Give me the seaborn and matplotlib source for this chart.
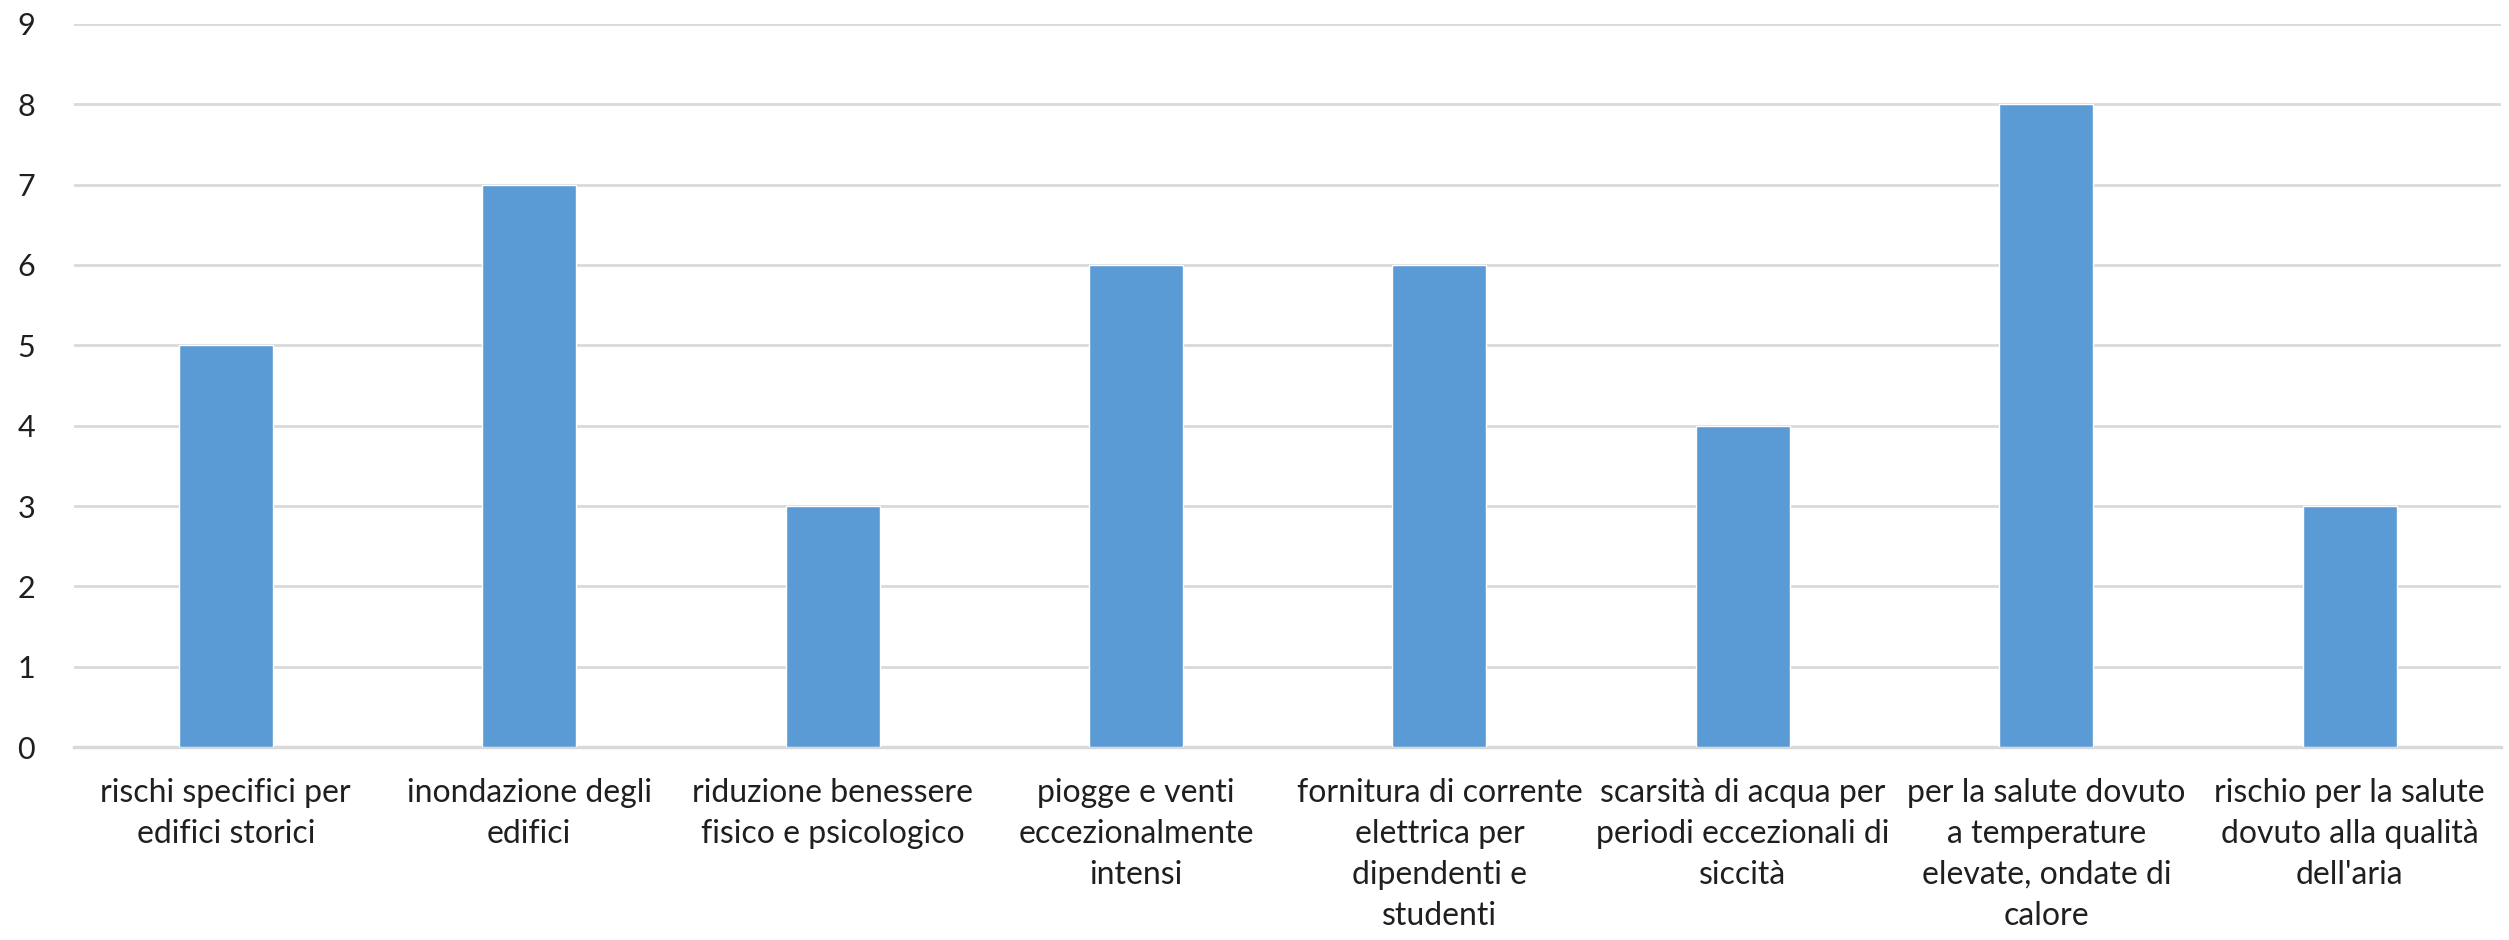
import matplotlib
matplotlib.use('Agg')
import matplotlib.pyplot as plt
import seaborn as sns
import pandas as pd

# categories (tick labels, wrapped as in the reference)
categories = [
    'rischi specifici per\nedifici storici',
    'inondazione degli\nedifici',
    'riduzione benessere\nfisico e psicologico',
    'piogge e venti\neccezionalmente\nintensi',
    'fornitura di corrente\nelettrica per\ndipendenti e\nstudenti',
    'scarsità di acqua per\nperiodi eccezionali di\nsiccità',
    'per la salute dovuto\na temperature\nelevate, ondate di\ncalore',
    "rischio per la salute\ndovuto alla qualità\ndell'aria",
]
values = [5, 7, 3, 6, 6, 4, 8, 3]
y_ticks = list(range(0, 10))

sns.set_style('white')
plt.rcParams['font.family'] = ['Lato', 'DejaVu Sans']

df = pd.DataFrame({'categoria': categories, 'valore': values})

fig = plt.figure(figsize=(25.09, 9.4), dpi=100)
ax = fig.add_axes([0.0295, 0.2053, 0.9675, 0.7692])

sns.barplot(data=df, x='categoria', y='valore', color='#5B9BD5',
            saturation=1, width=0.31, ax=ax, zorder=3)

ax.set_ylim(0, 9)
ax.set_yticks(y_ticks)
ax.yaxis.grid(True, color='#D9D9D9', linewidth=2, zorder=0)
ax.set_axisbelow(True)
for side in ['top', 'right', 'left']:
    ax.spines[side].set_visible(False)
ax.spines['bottom'].set_color('#D9D9D9')
ax.spines['bottom'].set_linewidth(2.5)

ax.set_xlabel('')
ax.set_ylabel('')
ax.tick_params(axis='y', length=0, pad=28, labelsize=22, labelcolor='#1f1f1f')
ax.tick_params(axis='x', length=0, pad=22, labelsize=23, labelcolor='#1f1f1f')
for lbl in ax.get_xticklabels():
    lbl.set_linespacing(1.46)
    lbl.set_verticalalignment('top')

fig.savefig('out.png', dpi=100)
